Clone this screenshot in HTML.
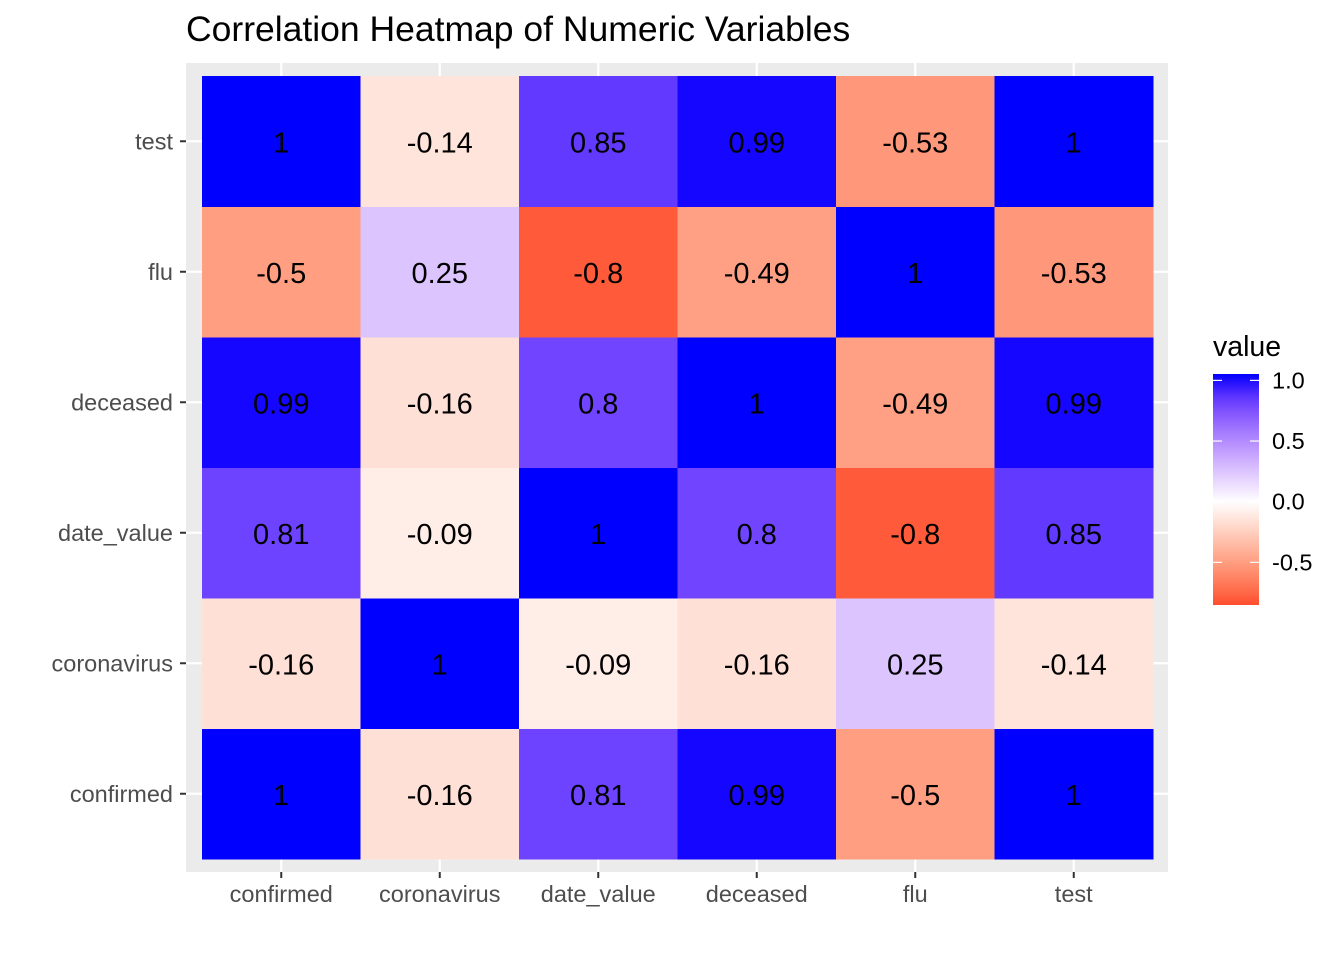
<!DOCTYPE html>
<html><head><meta charset="utf-8"><style>
body{margin:0;background:#fff;}
svg text{font-family:"Liberation Sans",Arial,sans-serif;}
</style></head><body>
<svg id="chart" width="1344" height="960" xmlns="http://www.w3.org/2000/svg">
<rect width="1344" height="960" fill="#fff"/>
<text x="186" y="41" font-size="35.5" fill="#000">Correlation Heatmap of Numeric Variables</text>
<rect x="186" y="63" width="982" height="809" fill="#EBEBEB"/>
<g id="grid"></g><g id="cells"></g><g id="axes"></g><g id="legend"></g>
</svg>
<script>
const vars = ["confirmed","coronavirus","date_value","deceased","flu","test"];
// rows indexed by y variable (same order as vars), columns by x variable
const rowConfirmed   = [1, -0.16, 0.81, 0.99, -0.5, 1];
const rowCoronavirus = [-0.16, 1, -0.09, -0.16, 0.25, -0.14];
const rowDateValue   = [0.81, -0.09, 1, 0.8, -0.8, 0.85];
const rowDeceased    = [0.99, -0.16, 0.8, 1, -0.49, 0.99];
const rowFlu         = [-0.5, 0.25, -0.8, -0.49, 1, -0.53];
const rowTest        = [1, -0.14, 0.85, 0.99, -0.53, 1];
const legendTicks = [1.0, 0.5, 0.0, -0.5];
const legendLabels = ["1.0","0.5","0.0","-0.5"];
const matrix = [rowConfirmed,rowCoronavirus,rowDateValue,rowDeceased,rowFlu,rowTest];

const NS="http://www.w3.org/2000/svg";
function mk(t,a,p){const e=document.createElementNS(NS,t);for(const k in a)e.setAttribute(k,a[k]);p.appendChild(e);return e;}
function toLin(c){c/=255;return c<=0.04045?c/12.92:Math.pow((c+0.055)/1.055,2.4);}
function fromLin(c){c=c<=0.0031308?12.92*c:1.055*Math.pow(c,1/2.4)-0.055;return Math.round(Math.max(0,Math.min(1,c))*255);}
function rgb2lab(r,g,b){r=toLin(r);g=toLin(g);b=toLin(b);
 let x=(r*0.4124+g*0.3576+b*0.1805)/0.95047,y=r*0.2126+g*0.7152+b*0.0722,z=(r*0.0193+g*0.1192+b*0.9505)/1.08883;
 const f=t=>t>0.008856?Math.cbrt(t):7.787*t+16/116;x=f(x);y=f(y);z=f(z);return[116*y-16,500*(x-y),200*(y-z)];}
function lab2rgb(L,a,bb){let y=(L+16)/116,x=a/500+y,z=y-bb/200;
 const fi=t=>t*t*t>0.008856?t*t*t:(t-16/116)/7.787;x=fi(x)*0.95047;y=fi(y);z=fi(z)*1.08883;
 const r=x*3.2406+y*-1.5372+z*-0.4986,g=x*-0.9689+y*1.8758+z*0.0415,b=x*0.0557+y*-0.2040+z*1.0570;
 return `rgb(${fromLin(r)},${fromLin(g)},${fromLin(b)})`;}
const LR=rgb2lab(255,0,0),LW=rgb2lab(255,255,255),LB=rgb2lab(0,0,255);
function color(v){let t=v/2+0.5;t=Math.max(0,Math.min(1,t));let A,B,u;
 if(t<0.5){A=LR;B=LW;u=t/0.5;}else{A=LW;B=LB;u=(t-0.5)/0.5;}
 return lab2rgb(A[0]+(B[0]-A[0])*u,A[1]+(B[1]-A[1])*u,A[2]+(B[2]-A[2])*u);}

const x0=202,cw=158.5,yBottom=859,ch=130.5;
const xC=i=>x0+cw*i+cw/2, yC=j=>yBottom-ch*j-ch/2;
const grid=document.getElementById('grid'),cells=document.getElementById('cells'),axes=document.getElementById('axes'),leg=document.getElementById('legend');
vars.forEach((v,i)=>{
 let l=mk('line',{x1:xC(i),x2:xC(i),y1:63,y2:872,stroke:'#fff','stroke-width':2.2},grid);
 
 
 l=mk('line',{x1:186,x2:1168,y1:yC(i),y2:yC(i),stroke:'#fff','stroke-width':2.2},grid);
 
 
});
matrix.forEach((row,j)=>row.forEach((val,i)=>{
 const r=mk('rect',{x:x0+cw*i,y:yBottom-ch*(j+1),width:cw+0.5,height:ch+0.5,fill:color(val)},cells);
 
 
 const t=mk('text',{x:xC(i),y:yC(j)+11,'text-anchor':'middle','font-size':29,fill:'#000'},cells);
 
 
 t.textContent=String(val);
}));
vars.forEach((v,i)=>{
 let tk=mk('line',{x1:xC(i),x2:xC(i),y1:872,y2:878,stroke:'#333','stroke-width':2},axes);
 
 
 let t=mk('text',{x:xC(i),y:902,'text-anchor':'middle','font-size':23.5,fill:'#4D4D4D'},axes);
 
 
 t.textContent=v;
 tk=mk('line',{x1:180,x2:186,y1:yC(i),y2:yC(i),stroke:'#333','stroke-width':2},axes);
 
 
 t=mk('text',{x:173,y:yC(i)+8,'text-anchor':'end','font-size':23.5,fill:'#4D4D4D'},axes);
 
 
 t.textContent=v;
});
const lt=mk('text',{x:1213,y:356,'font-size':28.5,fill:'#000'},leg);


lt.textContent='value';
const defs=mk('defs',{},leg);
const grad=mk('linearGradient',{id:'lg',x1:0,y1:1,x2:0,y2:0},defs);
const bTop=374,bBot=605,vZero=501.7,per=121.3;
const vBot=(vZero-bBot)/per,vTop=(vZero-bTop)/per;
for(let k=0;k<=20;k++){const v=vBot+(vTop-vBot)*k/20;mk('stop',{offset:k/20,'stop-color':color(v)},grad);}
const bar=mk('rect',{x:1213,y:bTop,width:46,height:bBot-bTop,fill:'url(#lg)'},leg);


legendTicks.forEach((v,k)=>{const y=vZero-v*per;
 let l=mk('line',{x1:1213,x2:1222,y1:y,y2:y,stroke:'#fff','stroke-width':1.2},leg);
 
 
 l=mk('line',{x1:1250,x2:1259,y1:y,y2:y,stroke:'#fff','stroke-width':1.2},leg);
 
 
 const t=mk('text',{x:1272,y:y+8,'font-size':23.5,fill:'#000'},leg);
 
 
 t.textContent=legendLabels[k];
});
</script>
</body></html>
